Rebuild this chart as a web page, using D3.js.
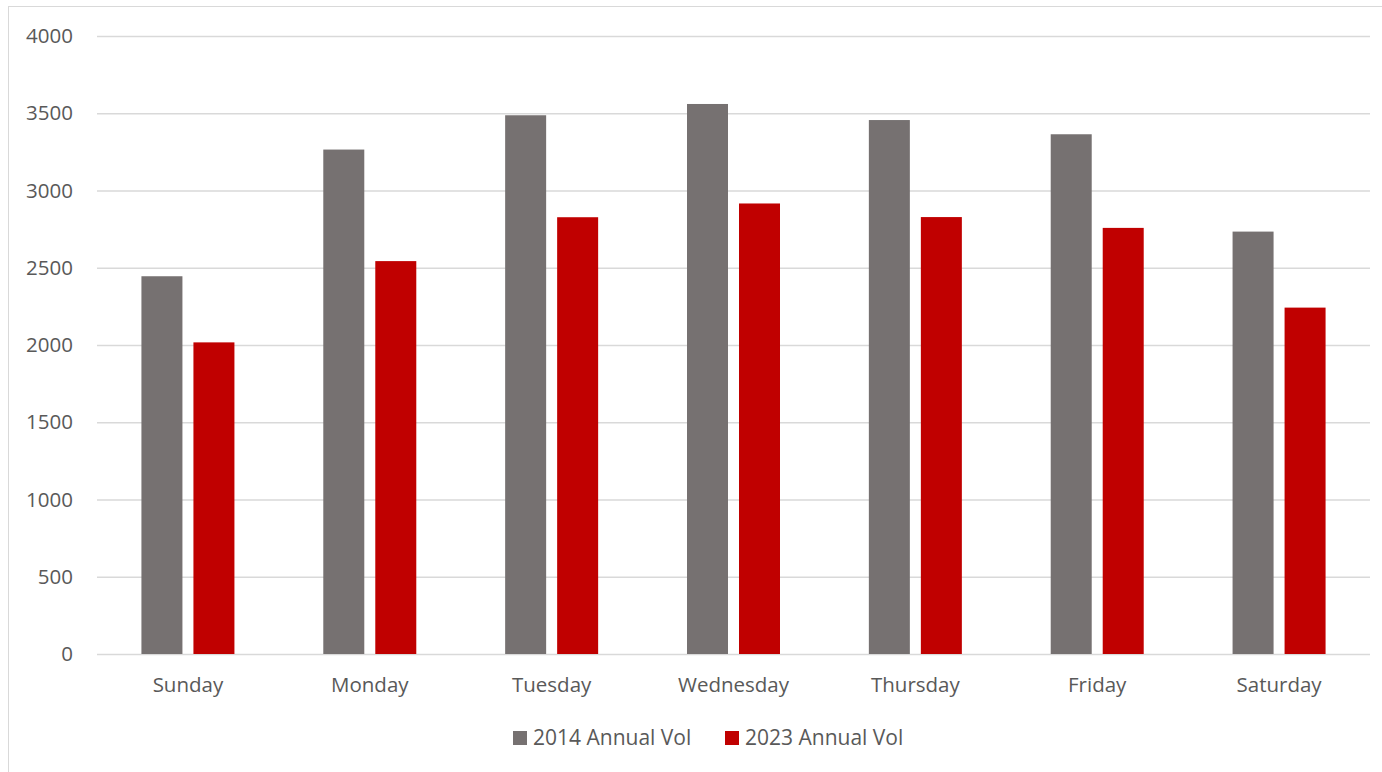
<!DOCTYPE html>
<html>
<head>
<meta charset="utf-8">
<script src="https://cdn.jsdelivr.net/npm/d3@7"></script>
<style>
  html, body { margin: 0; padding: 0; background: #fff; }
  svg { display: block; font-family: "Open Sans", "Noto Sans", sans-serif; }
</style>
</head>
<body>
<svg id="chart" width="1382" height="772"></svg>
<script>
// Daily volumes by weekday, two years compared
const days = ["Sunday", "Monday", "Tuesday", "Wednesday", "Thursday", "Friday", "Saturday"];
const vol2014 = [2445, 3265, 3487, 3560, 3456, 3364, 2734];
const vol2023 = [2017, 2543, 2827, 2916, 2828, 2758, 2242];
const seriesNames = ["2014 Annual Vol", "2023 Annual Vol"];
const seriesColors = ["#767171", "#C00000"];
const yTicks = [0, 500, 1000, 1500, 2000, 2500, 3000, 3500, 4000];

const svg = d3.select("#chart");
const W = 1382, H = 772;
const plot = { left: 97, right: 1370, top: 36, bottom: 654 };

// chart frame
svg.append("rect")
  .attr("x", 8.5).attr("y", 6.5)
  .attr("width", W + 20).attr("height", H + 20)
  .attr("fill", "#fff").attr("stroke", "#d9d9d9").attr("stroke-width", 1);

const x = d3.scaleBand().domain(days).range([plot.left, plot.right]);
const y = d3.scaleLinear().domain([0, 4000]).range([plot.bottom, plot.top]);

// two bars per day, 41px wide with an 11px gap
const barW = 41, barGap = 11;
const innerP = barGap / (barW + barGap);
const inner = d3.scaleBand().domain(seriesNames)
  .range([0, 2 * (barW + barGap)])
  .paddingInner(innerP).paddingOuter(innerP / 2);

// gridlines + y labels
const yAxis = d3.axisLeft(y).tickValues(yTicks).tickSize(-(plot.right - plot.left)).tickPadding(24).tickFormat(d3.format("d"));
const gy = svg.append("g").attr("transform", `translate(${plot.left},0)`).call(yAxis);
gy.select(".domain").remove();
gy.selectAll(".tick line").attr("stroke", "#d9d9d9").attr("stroke-width", 1.3);
gy.selectAll(".tick text").attr("fill", "#595959").attr("font-size", 20.5).attr("font-family", "Open Sans, sans-serif");

// bars
const rows = days.map((d, i) => ({ day: d, values: [vol2014[i], vol2023[i]] }));
const groups = svg.append("g").selectAll("g").data(rows).join("g")
  .attr("transform", d => `translate(${x(d.day) + (x.bandwidth() - 2 * (barW + barGap)) / 2},0)`);
groups.selectAll("rect").data(d => d.values.map((v, k) => ({ v, k })))
  .join("rect")
  .attr("x", d => inner(seriesNames[d.k]))
  .attr("width", inner.bandwidth())
  .attr("y", d => y(d.v))
  .attr("height", d => y(0) - y(d.v))
  .attr("fill", d => seriesColors[d.k]);

// x labels
const xAxis = d3.axisBottom(x).tickSize(0).tickPadding(23);
const gx = svg.append("g").attr("transform", `translate(0,${plot.bottom})`).call(xAxis);
gx.select(".domain").remove();
gx.selectAll(".tick text").attr("fill", "#595959").attr("font-size", 20.5).attr("font-family", "Open Sans, sans-serif");

// legend
const legend = svg.append("g").attr("font-size", 21).attr("fill", "#595959");
const legendX = [513, 725];
seriesNames.forEach((name, k) => {
  legend.append("rect").attr("x", legendX[k]).attr("y", 731).attr("width", 14).attr("height", 14).attr("fill", seriesColors[k]);
  legend.append("text").attr("x", legendX[k] + 20).attr("y", 738).attr("dy", "0.35em").text(name);
});
</script>
</body>
</html>
